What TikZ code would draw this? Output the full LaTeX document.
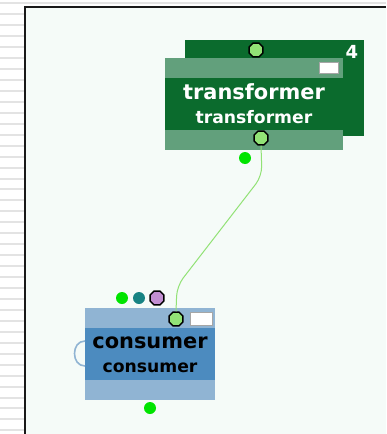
\documentclass[tikz,border=0pt]{standalone}
\usepackage{xcolor}
\usepackage{fontspec}
\newfontfamily\boxFont{DejaVu Sans}
\usepackage{tikz}
\usetikzlibrary{positioning,calc,shapes.geometric}
\definecolor{panelBg}{HTML}{F5FBF8}
\definecolor{trafoDark}{HTML}{0B6B2D}
\definecolor{trafoPale}{HTML}{62A07C}
\definecolor{consPale}{HTML}{90B4D3}
\definecolor{consMid}{HTML}{4C8BBF}
\definecolor{portGreen}{HTML}{92E276}
\definecolor{dotGreen}{HTML}{00E400}
\definecolor{dotTeal}{HTML}{178383}
\definecolor{dotPurple}{HTML}{C28ED2}
\tikzset{
  bandBox/.style={
    rectangle,
    inner sep=0pt,
    minimum width=178pt,
    minimum height=20pt
  },
  portOct/.style={
    regular polygon,
    regular polygon sides=8,
    draw=black,
    line width=1.4pt,
    fill=portGreen,
    inner sep=0pt,
    minimum size=15pt
  },
  dataDot/.style={
    circle,
    fill=dotGreen,
    inner sep=0pt,
    minimum size=12pt
  },
  flagBox/.style={
    rectangle,
    fill=white,
    draw=gray!70,
    line width=0.8pt,
    inner sep=0pt
  },
  bigLabel/.style={
    font=\boxFont\bfseries\fontsize{20.9}{22}\selectfont,
    inner sep=0pt
  },
  smallLabel/.style={
    font=\boxFont\bfseries\fontsize{17.2}{18}\selectfont,
    inner sep=0pt
  },
  linkLine/.style={
    draw=portGreen,
    line width=1pt,
    rounded corners=10pt
  }
}

\begin{document}
\begin{tikzpicture}[x=1pt,y=-1pt]
        \useasboundingbox (0,0) rectangle (386,434);
        % left strip and panel
        \foreach \i in {0,...,39}
          \draw[gray!22,line width=2pt] (0,3.3+10.95*\i) -- (24,3.3+10.95*\i);
        \draw[gray!22,line width=1.5pt] (24,3) -- (386,3);
        \fill[panelBg] (25,7) rectangle (386,434);
        \draw[black!90,line width=2pt] (25,434) -- (25,6.5) -- (386,6.5);

        % transformer
        \node[bandBox, fill=trafoDark, minimum width=179pt, minimum height=96pt] (trafoBack) at (274.5,88) {};
        \node[bandBox, fill=trafoDark, minimum height=92pt] (trafo) at (254,104) {};
        \node[bandBox, fill=trafoPale, below=0pt of trafo.north] (trafoTop) {};
        \node[bandBox, fill=trafoPale, above=0pt of trafo.south] (trafoBottom) {};
        \node[flagBox, minimum width=19pt, minimum height=11pt] (trafoFlag) at (328.5,67.5) {};
        \node[bigLabel, text=white] (trafoName) at (254,92) {transformer};
        \node[smallLabel, text=white] (trafoType) at (254,117) {transformer};
        \node[font=\boxFont\bfseries\fontsize{18}{19}\selectfont, text=white, inner sep=0pt] (trafoCount) at (352,52) {4};
        \node[portOct] (trafoIn) at (256,50) {};
        \node[dataDot] (trafoDot) at (245,158) {};

        % consumer
        \node[bandBox, fill=consMid, minimum width=130pt, minimum height=92pt] (cons) at (150,354) {};
        \node[bandBox, fill=consPale, minimum width=130pt, below=0pt of cons.north] (consTop) {};
        \node[bandBox, fill=consPale, minimum width=130pt, above=0pt of cons.south] (consBottom) {};
        \node[flagBox, minimum width=22pt, minimum height=13pt] (consFlag) at (201,318.5) {};
        \node[bigLabel, text=black] (consName) at (150,343) {consumer};
        \node[smallLabel, text=black] (consType) at (150,368) {consumer};
        \draw[consPale, line width=1.6pt] (85,341) .. controls (71,341) and (71,366) .. (85,366);
        \node[dataDot] (consDotA) at (122,298) {};
        \node[dataDot, fill=dotTeal] (consDotB) at (139,298) {};
        \node[portOct, fill=dotPurple] (consDotC) at (157,298) {};
        \node[dataDot] (consOut) at (150,408) {};

        % link
        \coordinate (bendA) at (262,176);
        \coordinate (bendB) at (177,286);
        \node[portOct] (trafoOut) at (261,138) {};
        \node[portOct] (consIn) at (176,319) {};
        \draw[linkLine] (trafoOut.south) -- (bendA) -- (bendB) -- (consIn.north);
    \end{tikzpicture}
\end{document}
